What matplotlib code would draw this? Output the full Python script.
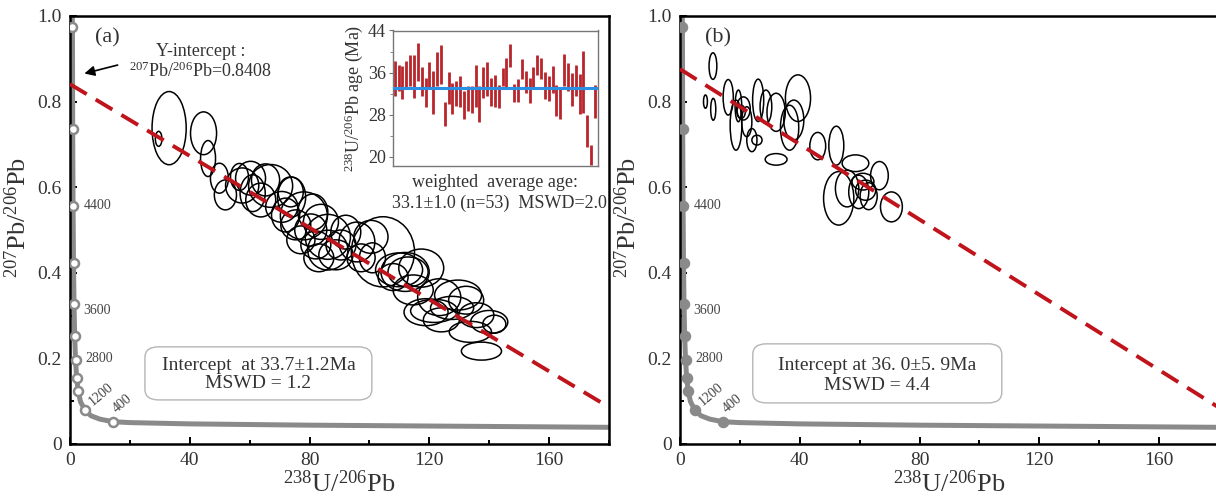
import matplotlib.pyplot as plt
from matplotlib.patches import Ellipse, FancyBboxPatch

plt.rcParams['font.family'] = ['Liberation Serif', 'DejaVu Serif']
plt.rcParams['mathtext.fontset'] = 'custom'
plt.rcParams['mathtext.rm'] = 'Liberation Serif'
plt.rcParams['mathtext.it'] = 'Liberation Serif:italic'
plt.rcParams['mathtext.bf'] = 'Liberation Serif:bold'

# concordia curve (Tera-Wasserburg)
conc_x = [0.75, 0.81, 0.90, 1.02, 1.17, 1.34, 1.56, 1.84, 2.22, 2.75, 3.5, 4.9,
          7.0, 10.0, 14.4, 20, 40, 80, 120, 160, 180]
conc_y = [1.0, 0.975, 0.735, 0.557, 0.424, 0.326, 0.252, 0.197, 0.155, 0.123, 0.099, 0.080,
          0.066, 0.058, 0.052, 0.050, 0.047, 0.044, 0.042, 0.040, 0.039]
mark_x = [0.81, 0.90, 1.02, 1.17, 1.34, 1.56, 1.84, 2.22, 2.75, 4.9, 14.4]
mark_y = [0.975, 0.735, 0.557, 0.424, 0.326, 0.252, 0.197, 0.155, 0.123, 0.080, 0.052]
age_labels = ['4400', '3600', '2800', '1200', '400']
age_label_x = [4.6, 4.4, 5.0, 10.3, 17.5]
age_label_y = [0.557, 0.313, 0.199, 0.116, 0.094]
age_label_rot = [0, 0, 0, 40, 40]

# (a) ellipses: centre x, centre y, width, height
a_x = [33.1, 29.6, 44.6, 46.1, 49.9, 56.6, 57.5, 61.0, 67.0, 73.7, 74.0, 70.7, 78.1, 63.7,
       75.4, 80.4, 83.8, 86.1, 86.1, 77.1, 82.1, 90.5, 104.5, 100.5, 109.9, 107.9, 112.9,
       111.9, 123.3, 129.6, 118.9, 121.6, 127.6, 140.0, 141.7, 133.7, 137.4, 124.0, 81.1,
       72.0, 88.8, 83.1, 92.1, 65.3, 114.6, 60.3, 97.2, 117.3, 132.3, 135.7, 51.9, 95.8, 101.0]
a_y = [0.738, 0.713, 0.726, 0.667, 0.621, 0.624, 0.604, 0.586, 0.603, 0.589, 0.577, 0.554,
       0.533, 0.570, 0.512, 0.500, 0.519, 0.484, 0.453, 0.477, 0.465, 0.465, 0.449, 0.484,
       0.407, 0.390, 0.402, 0.402, 0.343, 0.348, 0.308, 0.311, 0.318, 0.285, 0.280, 0.262,
       0.217, 0.290, 0.542, 0.535, 0.442, 0.435, 0.495, 0.617, 0.360, 0.621, 0.435, 0.411,
       0.336, 0.301, 0.582, 0.472, 0.435]
a_w = [11.4, 2.2, 8.7, 5.0, 6.0, 6.0, 11.1, 8.4, 14.7, 8.4, 9.4, 10.7, 15.7, 10.0, 10.0,
       10.7, 11.7, 15.1, 13.4, 9.4, 10.0, 10.0, 21.1, 11.4, 15.7, 10.0, 13.4, 16.1, 14.4,
       15.7, 14.7, 15.7, 14.4, 12.4, 7.7, 14.1, 13.4, 12.0, 10.0, 9.4, 11.4, 10.0, 10.0,
       9.4, 13.4, 10.0, 9.4, 15.0, 11.7, 11.7, 7.4, 12.0, 8.7]
a_h = [0.171, 0.035, 0.100, 0.084, 0.070, 0.063, 0.082, 0.086, 0.100, 0.070, 0.093, 0.072,
       0.112, 0.079, 0.070, 0.075, 0.082, 0.105, 0.093, 0.065, 0.065, 0.070, 0.164, 0.077,
       0.079, 0.063, 0.070, 0.091, 0.086, 0.070, 0.063, 0.054, 0.054, 0.054, 0.042, 0.049,
       0.042, 0.056, 0.084, 0.079, 0.070, 0.065, 0.079, 0.075, 0.070, 0.079, 0.065, 0.089,
       0.065, 0.058, 0.070, 0.093, 0.070]

# (b) ellipses
b_x = [11.0, 8.5, 11.1, 16.1, 18.7, 19.5, 21.2, 20.4, 22.3, 24.0, 25.7, 26.1, 28.7, 32.1,
       36.6, 38.0, 39.4, 32.1, 46.0, 52.2, 58.6, 53.0, 55.8, 59.7, 61.1, 62.0, 66.6, 70.6, 63.0]
b_y = [0.883, 0.800, 0.782, 0.810, 0.745, 0.790, 0.784, 0.776, 0.753, 0.710, 0.710, 0.803,
       0.788, 0.775, 0.739, 0.757, 0.808, 0.665, 0.696, 0.697, 0.656, 0.574, 0.597, 0.589,
       0.613, 0.593, 0.627, 0.554, 0.579]
b_w = [2.6, 1.3, 1.7, 3.4, 3.9, 2.2, 4.5, 2.8, 3.4, 3.4, 3.4, 3.7, 3.9, 6.1, 6.1, 6.7, 8.4,
       7.3, 5.3, 5.0, 8.9, 10.1, 7.8, 6.7, 7.3, 6.7, 5.9, 7.3, 5.7]
b_h = [0.062, 0.031, 0.051, 0.083, 0.117, 0.074, 0.054, 0.031, 0.070, 0.054, 0.023, 0.099,
       0.078, 0.089, 0.105, 0.093, 0.109, 0.027, 0.064, 0.091, 0.039, 0.125, 0.086, 0.078,
       0.039, 0.047, 0.066, 0.070, 0.063]

# discordia lines: y-intercept and value at x = 180
a_line = [0.8408, 0.086]
b_line = [0.876, 0.085]

# inset: weighted average of 238U/206Pb ages (Ma), error bar low / high
age_lo = [31.5, 32.5, 30.9, 32.8, 33.4, 31.2, 34.4, 31.5, 29.4, 33.1, 28.2, 33.4, 33.8, 25.9,
          30.1, 28.2, 29.7, 29.4, 27.1, 28.8, 28.3, 29.4, 26.6, 31.2, 31.5, 29.6, 29.4, 29.3,
          33.4, 33.1, 37.0, 30.4, 30.4, 34.7, 32.1, 30.2, 32.8, 35.6, 34.7, 31.0, 30.7, 32.1,
          27.7, 27.1, 33.4, 32.5, 29.7, 31.5, 28.2, 28.4, 21.9, 18.5, 27.3]
age_hi = [38.3, 37.5, 37.2, 38.3, 39.3, 39.4, 41.6, 37.0, 35.0, 38.0, 36.4, 39.9, 41.2, 30.4,
          36.1, 34.0, 34.5, 35.3, 32.5, 33.4, 33.5, 37.5, 33.4, 37.0, 38.1, 35.0, 35.5, 33.7,
          36.9, 38.8, 41.4, 33.8, 34.8, 38.6, 36.4, 35.0, 37.0, 39.3, 38.7, 36.1, 35.3, 37.3,
          33.6, 33.0, 39.5, 37.8, 35.9, 37.5, 35.7, 40.2, 28.0, 22.3, 33.6]
weighted_age = 33.1

RED = '#c0141c'
GRAY = '#8a8a8a'
TXT = '#333333'

W, H = 1216, 500
fig = plt.figure(figsize=(W / 100, H / 100), dpi=100)
ax_a = fig.add_axes([70 / W, 56 / H, 539 / W, 428 / H])
ax_b = fig.add_axes([680 / W, 56 / H, 539 / W, 428 / H])


def draw_panel(ax, ex, ey, ew, eh, line, filled, letter, box_lines, box):
    ax.set_xlim(0, 180)
    ax.set_ylim(0, 1.0)
    ax.plot(conc_x, conc_y, color=GRAY, lw=3.6, solid_capstyle='round', zorder=2)
    ax.plot(mark_x, mark_y, 'o', ms=6.5, mew=1.8, mec=GRAY,
            mfc=GRAY if filled else 'white', zorder=3)
    for lab, lx, ly, rot in zip(age_labels, age_label_x, age_label_y, age_label_rot):
        ax.text(lx, ly, lab, fontsize=10, color='#444444', rotation=rot,
                ha='left' if rot == 0 else 'center', va='center', zorder=4)
    for x, y, w, h in zip(ex, ey, ew, eh):
        ax.add_patch(Ellipse((x, y), w, h, fill=False, ec='black', lw=1.1, zorder=5))
    ax.plot([0, 180], line, color=RED, lw=2.8, dashes=(5, 2.7), zorder=6)

    ax.set_xticks([0, 40, 80, 120, 160])
    ax.set_xticks([20, 60, 100, 140, 180], minor=True)
    ax.set_yticks([0, 0.2, 0.4, 0.6, 0.8, 1.0])
    ax.set_yticklabels(['0', '0.2', '0.4', '0.6', '0.8', '1.0'])
    ax.set_yticks([0.1, 0.3, 0.5, 0.7, 0.9], minor=True)
    ax.tick_params(which='both', direction='in', top=False, right=False,
                   labelsize=14, labelcolor=TXT, pad=6, width=1.4)
    ax.tick_params(which='major', length=5)
    ax.tick_params(which='minor', length=3)
    for s in ax.spines.values():
        s.set_linewidth(1.8)
    ax.set_xlabel(r'$^{238}\mathrm{U}/^{206}\mathrm{Pb}$', fontsize=19, color=TXT, labelpad=1)
    ax.set_ylabel(r'$^{207}\mathrm{Pb}/^{206}\mathrm{Pb}$', fontsize=19, color=TXT, labelpad=0)
    ax.yaxis.set_label_coords(-0.072, 0.53)
    ax.text(0.07, 0.948, letter, transform=ax.transAxes, fontsize=16, color=TXT,
            ha='center', va='center')

    x0, y0, x1, y1 = box
    ax.add_patch(FancyBboxPatch((x0, y0), x1 - x0, y1 - y0, transform=ax.transAxes,
                                boxstyle='round,pad=0,rounding_size=0.025',
                                fc='white', ec='#b5b5b5', lw=1.0, zorder=7))
    cx = (x0 + x1) / 2
    ax.text(cx, y1 - 0.36 * (y1 - y0), box_lines[0], transform=ax.transAxes,
            fontsize=14, color=TXT, ha='center', va='center', zorder=8)
    ax.text(cx, y0 + 0.30 * (y1 - y0), box_lines[1], transform=ax.transAxes,
            fontsize=14, color=TXT, ha='center', va='center', zorder=8)


draw_panel(ax_a, a_x, a_y, a_w, a_h, a_line, False, '(a)',
           ['Intercept  at 33.7\u00b11.2Ma', 'MSWD = 1.2'], (0.139, 0.103, 0.560, 0.227))
draw_panel(ax_b, b_x, b_y, b_w, b_h, b_line, True, '(b)',
           ['Intercept at 36. 0\u00b15. 9Ma', 'MSWD = 4.4'], (0.135, 0.096, 0.597, 0.234))

# y-intercept note
ax_a.text(43.5, 0.917, 'Y-intercept :', fontsize=13, color=TXT, ha='center', va='center')
ax_a.text(43.5, 0.870, r'$^{207}\mathrm{Pb}/^{206}\mathrm{Pb}$=0.8408', fontsize=13,
          color=TXT, ha='center', va='center')
ax_a.annotate('', xy=(3.9, 0.864), xytext=(16.8, 0.887),
              arrowprops=dict(arrowstyle='-|>', color='black', lw=1.2, mutation_scale=15))

# inset weighted-average plot
ax_in = fig.add_axes([392.7 / W, (H - 166.3) / H, 205 / W, 135.8 / H])
idx = list(range(1, len(age_lo) + 1))
ax_in.vlines(idx, age_lo, age_hi, color='#b8262c', lw=2.0, zorder=2)
ax_in.plot([0.48, 53.7], [weighted_age, weighted_age], color='#2b8fe3', lw=2.2, zorder=3)
ax_in.set_xlim(0.48, 53.7)
ax_in.set_ylim(18.2, 44)
ax_in.set_xticks([])
ax_in.set_yticks([20, 28, 36, 44])
ax_in.set_yticks([24, 32, 40], minor=True)
ax_in.tick_params(which='both', direction='out', labelsize=13, labelcolor=TXT,
                  color='#777777', pad=2)
ax_in.tick_params(which='major', length=3)
ax_in.tick_params(which='minor', length=2)
for s in ax_in.spines.values():
    s.set_color('#777777')
    s.set_linewidth(1.0)
ax_in.set_ylabel(r'$^{238}\mathrm{U}/^{206}\mathrm{Pb}$ age (Ma)', fontsize=13,
                 color=TXT, labelpad=2)

ax_a.text(0.789, 0.610, 'weighted  average age:', transform=ax_a.transAxes,
          fontsize=13, color=TXT, ha='center', va='center')
ax_a.text(0.796, 0.563, '33.1\u00b11.0 (n=53)  MSWD=2.0', transform=ax_a.transAxes,
          fontsize=13, color=TXT, ha='center', va='center')

fig.savefig('out.png', dpi=100)
